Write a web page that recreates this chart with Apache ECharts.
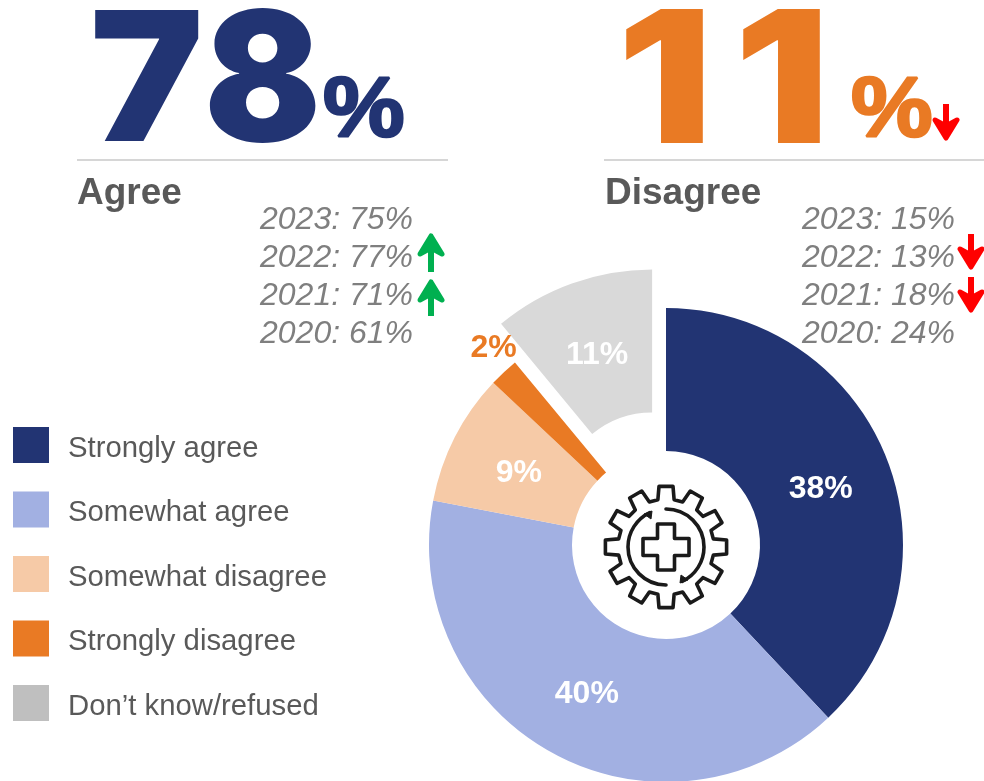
<!DOCTYPE html>
<html><head><meta charset="utf-8">
<style>html,body{margin:0;padding:0;background:#fff}#c{width:984px;height:781px}</style>
<script src="https://cdn.jsdelivr.net/npm/echarts@6/dist/echarts.min.js"></script>
</head><body><div id="c"></div>
<script>
const categories = ['Strongly agree','Somewhat agree','Somewhat disagree','Strongly disagree','Don’t know/refused'];
const shares = [38,40,9,2,11];
const sliceColors = ['#223473','#a2b0e2','#f6caa7','#e97a24','#d9d9d9'];
const swatchColors = ['#223473','#a2b0e2','#f6caa7','#e97a24','#bfbfbf'];
const agreeTotal = '78', disagreeTotal = '11';
const agreeHistory = ['2023: 75%','2022: 77%','2021: 71%','2020: 61%'];
const disagreeHistory = ['2023: 15%','2022: 13%','2021: 18%','2020: 24%'];

const F = 'Liberation Sans, Arial, sans-serif';
const txt = (x,y,text,size,color,extra={})=>({type:'text',x,y,scaleX:extra.sx||1,scaleY:extra.sy||1,silent:true,style:{text,fill:color,
  font:`${extra.weight||'normal'} ${size}px ${extra.family||F}`,textBaseline:'middle',textVerticalAlign:'middle',
  stroke:extra.stroke,lineWidth:extra.lw||0}});
const ital = (x,y,t)=>({type:'text',x,y,silent:true,style:{text:t,fill:'#7f7f7f',font:`italic 32px ${F}`,textBaseline:'middle',textVerticalAlign:'middle'}});
const line = (pts,color,w)=>({type:'polyline',silent:true,shape:{points:pts},style:{stroke:color,lineWidth:w,fill:null}});
function arrow(x,top,bot,dir,color,hw,shaft){
  const tip = dir>0?top:bot, tail = dir>0?bot:top, base = tip + dir*21, notch = tip + dir*15;
  return [
    {type:'rect',silent:true,shape:{x:x-shaft/2,y:Math.min(notch,tail),width:shaft,height:Math.abs(tail-notch)},style:{fill:color}},
    {type:'polygon',silent:true,shape:{points:[[x,tip+dir*3],[x+hw-2,base],[x,notch],[x-hw+2,base]]},style:{fill:color,stroke:color,lineWidth:5,lineJoin:'round'}}
  ];
}
const gcx=666,gcy=547;
function gearPoints(){
  const pts=[],n=12,ro=61,ri=48;
  for(let i=0;i<n;i++){
    const a=-Math.PI/2+i*2*Math.PI/n, hwO=0.115, hwI=0.17;
    [[ri,-hwI],[ro,-hwO],[ro,hwO],[ri,hwI]].forEach(([r,d])=>pts.push([gcx+r*Math.cos(a+d),gcy+r*Math.sin(a+d)]));
  }
  return pts;
}
const u=8.5,v=23;
const plus=[[-u,-v],[u,-v],[u,-u],[v,-u],[v,u],[u,u],[u,v],[-u,v],[-u,u],[-v,u],[-v,-u],[-u,-u]].map(([a,b])=>[gcx+a,gcy+b]);
const ic={stroke:'#1a1a1a',lineWidth:3.6,fill:null,lineCap:'round',lineJoin:'round'};
const gear=[
  {type:'polygon',silent:true,shape:{points:gearPoints()},style:ic},
  {type:'polygon',silent:true,shape:{points:plus},style:ic},
  {type:'arc',silent:true,shape:{cx:gcx,cy:gcy,r:38,startAngle:-Math.PI/2,endAngle:Math.PI*0.36},style:ic},
  {type:'arc',silent:true,shape:{cx:gcx,cy:gcy,r:38,startAngle:Math.PI/2,endAngle:Math.PI*1.36},style:ic},
  {type:'polygon',silent:true,shape:{points:[[652,511],[651,519],[644,514]]},style:{fill:'#1a1a1a',stroke:'#1a1a1a',lineWidth:1}},
  {type:'polygon',silent:true,shape:{points:[[680,583],[681,575],[688,580]]},style:{fill:'#1a1a1a',stroke:'#1a1a1a',lineWidth:1}}
];

const BIG='Inter, Liberation Sans, sans-serif';
const oneX=[617,734], sevenEightX=[90,204], sevenEightScale=[1.06,0.96];
const graphics=[
  ...agreeTotal.split('').map((d,i)=>txt(sevenEightX[i],87,d,180,'#223473',{weight:'900',family:BIG,sx:sevenEightScale[i]})),
  txt(323,113,'%',85,'#223473',{weight:'bold',stroke:'#223473',lw:2.5,sx:1.08}),
  ...disagreeTotal.split('').map((d,i)=>txt(oneX[i],88,d,184,'#e97a24',{weight:'900',family:BIG,sx:1.15})),
  txt(851,113,'%',85,'#e97a24',{weight:'bold',stroke:'#e97a24',lw:2.5,sx:1.08}),
  line([[77,160],[448,160]],'#c8c8c8',1.5),
  line([[604,160],[984,160]],'#c8c8c8',1.5),
  txt(77,194,'Agree',37,'#595959',{weight:'bold'}),
  txt(605,194,'Disagree',37,'#595959',{weight:'bold'}),
  ...agreeHistory.map((t,i)=>ital(260,220+i*38,t)),
  ...disagreeHistory.map((t,i)=>ital(802,220+i*38,t)),
  ...arrow(431,233,272,1,'#00b050',13,6),
  ...arrow(431,279,316,1,'#00b050',13,6),
  ...arrow(971,234,270,-1,'#ff0000',13,6),
  ...arrow(971,277,313,-1,'#ff0000',13,6),
  ...arrow(946,104,141,-1,'#ff0000',13,6),
  ...gear
];

const labelOverrides={
  0:{offset:[-2,6]},
  1:{offset:[2,2]},
  2:{offset:[3,5]},
  3:{color:'#e97a24',position:'inside',offset:[-57,-74]},
  4:{offset:[2,7]}
};
const chart=echarts.init(document.getElementById('c'),null,{renderer:'canvas'});
chart.setOption({
  animation:false,
  legend:{
    orient:'vertical',left:13,top:427,padding:0,itemWidth:36,itemHeight:36,itemGap:28.5,selectedMode:false,icon:'rect',
    formatter:'{t|{name}}',
    textStyle:{rich:{t:{fontFamily:F,fontSize:29.3,color:'#595959',padding:[7,0,0,14]}}},
    data:categories.map((name,i)=>({name,itemStyle:{color:swatchColors[i]}}))
  },
  series:[{
    type:'pie',center:[666,545],radius:[94,237],startAngle:90,clockwise:true,
    avoidLabelOverlap:false,selectedMode:'single',selectedOffset:41,
    emphasis:{disabled:true},
    label:{position:'inside',formatter:'{c}%',fontFamily:F,fontWeight:'bold',fontSize:32,color:'#fff'},
    labelLine:{show:false},
    data:categories.map((name,i)=>({
      name,value:shares[i],selected:i===4,
      itemStyle:{color:sliceColors[i]},
      select:{itemStyle:{color:sliceColors[i]},label:labelOverrides[i]||{}},
      label:labelOverrides[i]||{}
    }))
  }],
  graphic:{elements:graphics}
});
</script></body></html>
